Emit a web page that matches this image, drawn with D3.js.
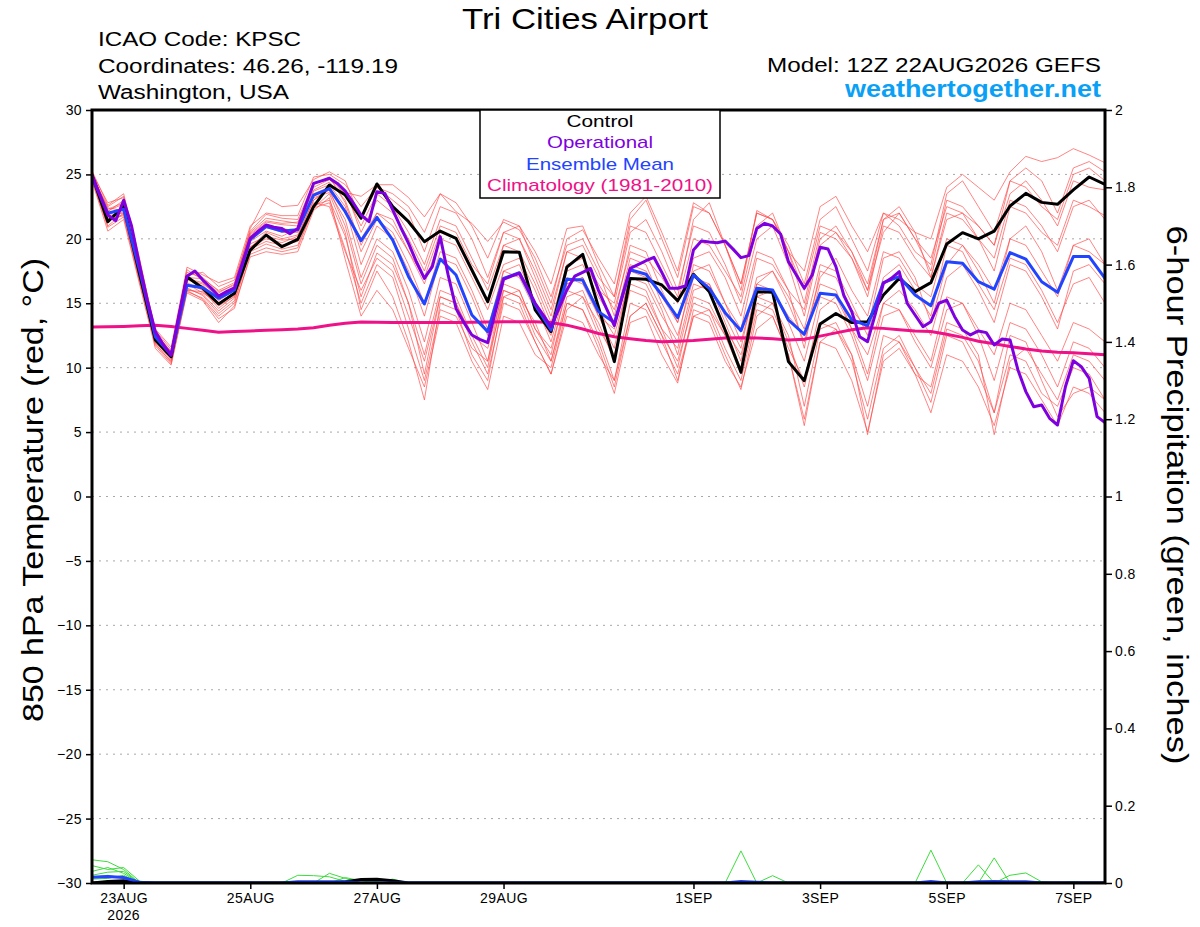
<!DOCTYPE html>
<html><head><meta charset="utf-8">
<script src="https://cdn.jsdelivr.net/npm/d3@7"></script>
<style>body{margin:0;background:#fff}svg{display:block}</style>
</head><body><svg id="c" width="1200" height="927"></svg>
<script>
// ---------- DATA ----------
const startTime = "2026-08-22T12:00:00Z";
const stepHours = 6;      // ensemble, control, mean, climatology, precip
const opStepHours = 3;    // operational run

const tempTicks = [-30,-25,-20,-15,-10,-5,0,5,10,15,20,25,30];
const precipTicks = [0,0.2,0.4,0.6,0.8,1,1.2,1.4,1.6,1.8,2];
const dateTicks = ["2026-08-23","2026-08-25","2026-08-27","2026-08-29","2026-09-01","2026-09-03","2026-09-05","2026-09-07"];
const dateLabels = ["23AUG","25AUG","27AUG","29AUG","1SEP","3SEP","5SEP","7SEP"];
const yearLabel = "2026";

const control = [24.96,21.33,22.5,17.3,12.15,10.85,17.06,16.16,14.94,15.77,19.13,20.3,19.39,19.96,22.5,24.18,23.4,
21.6,24.26,22.5,21.33,19.78,20.6,20.04,17.58,15.12,19.0,18.95,14.48,12.8,17.8,18.8,14.7,10.47,16.93,16.86,16.42,15.2,17.25,15.9,12.92,9.64,15.9,15.85,10.47,8.99,13.39,14.2,13.5,13.57,15.64,16.93,15.9,16.6,19.6,20.48,19.99,20.6,22.55,23.53,22.83,22.68,23.8,24.8,24.23];

const ensembleMean = [24.8,21.98,22.3,17.6,12.4,10.98,16.4,16.2,15.38,16.03,19.96,20.95,20.6,20.7,23.4,23.9,22.1,
19.85,21.67,19.9,17.06,14.94,18.43,17.19,14.09,12.8,16.93,17.37,14.86,12.92,16.86,16.8,14.35,13.5,17.6,17.25,15.64,13.88,17.19,16.16,14.27,12.87,16.16,16.03,13.7,12.59,15.77,15.64,13.72,13.26,16.6,17.06,15.64,14.81,18.23,18.1,16.67,16.1,18.93,18.43,16.67,15.85,18.62,18.62,16.93];

const climatology = [13.15,13.17,13.2,13.25,13.3,13.2,13.05,12.9,12.75,12.8,12.85,12.9,12.95,13.0,13.1,13.3,13.45,
13.55,13.52,13.5,13.5,13.5,13.5,13.5,13.52,13.54,13.56,13.57,13.57,13.5,13.3,13.0,12.65,12.4,12.25,12.1,12.02,12.05,12.1,12.2,12.3,12.33,12.3,12.25,12.15,12.2,12.45,12.7,12.95,13.1,13.05,12.95,12.85,12.8,12.6,12.35,12.05,11.85,11.65,11.45,11.3,11.2,11.15,11.08,11.0];

const operational = [24.96,23.4,21.85,21.41,23.0,21.0,18.0,15.2,12.8,11.8,10.98,14.1,17.1,17.5,16.8,16.2,15.56,15.9,16.2,18.1,
20.04,20.6,21.07,20.9,20.8,20.4,20.8,22.6,24.3,24.5,24.7,24.3,23.7,22.8,21.85,21.33,23.66,23.53,22.24,20.9,
19.65,18.2,16.93,17.84,20.17,17.2,14.6,13.5,12.54,12.2,11.94,14.4,16.86,17.1,17.33,16.2,15.0,14.1,13.18,14.6,
16.03,17.1,17.4,17.7,16.0,14.6,13.26,15.5,17.71,18.0,18.3,18.57,17.4,16.16,16.16,16.34,19.13,19.83,19.75,19.7,
19.83,19.2,18.54,18.7,20.8,21.2,21.0,20.38,18.23,17.2,16.16,17.19,19.34,19.21,17.84,15.6,14.35,12.4,12.02,14.22,
16.55,16.93,17.45,15.0,14.09,13.18,13.57,15.0,15.25,13.96,12.92,12.54,12.85,12.72,11.76,12.22,12.15,9.82,8.14,6.97,
7.1,6.07,5.55,8.52,10.54,10.08,9.17,6.2,5.73];

const member01 = [25.3,22.6,23.5,18.5,12.8,11.2,17.6,16.8,15.8,16.5,20.8,23.2,22.5,22.6,24.6,25.2,24.5,21.5,24.0,23.5,22.5,20.5,23.5,22.8,21.0,18.5,21.5,21.0,19.0,16.5,20.8,21.0,18.0,15.5,21.5,23.0,20.0,17.0,22.5,22.0,19.5,16.5,22.0,21.5,19.0,17.5,22.5,23.3,21.0,19.0,22.0,21.5,20.5,20.0,24.0,25.0,24.0,23.0,25.2,26.4,26.0,26.3,27.0,26.5,25.9];
const member02 = [24.6,21.0,22.0,17.0,12.0,10.6,16.0,15.9,14.8,15.5,19.3,20.5,20.0,20.3,23.0,24.0,23.6,23.3,24.2,24.2,23.2,21.7,23.5,22.1,21.2,19.8,21.3,20.7,18.5,15.5,19.5,20.0,17.5,14.0,19.5,19.0,16.0,13.5,18.5,19.0,17.0,14.0,19.0,18.5,16.0,14.5,20.0,21.0,19.0,16.0,20.5,22.0,20.0,17.5,23.0,22.5,21.0,19.5,24.5,25.5,24.5,22.0,25.5,26.0,25.2];
const member03 = [25.0,22.3,22.8,17.8,12.6,11.0,16.8,16.5,15.6,16.2,20.3,21.3,21.1,21.0,23.8,24.4,23.0,19.5,22.0,21.5,19.0,17.0,20.5,20.0,17.5,15.0,19.5,19.0,16.5,13.5,18.0,18.5,16.5,14.5,19.0,18.5,17.0,15.0,20.0,19.5,17.5,15.5,21.0,22.0,19.0,15.0,20.5,20.0,18.5,16.0,21.5,22.5,20.5,17.0,22.0,21.5,20.0,18.5,23.0,22.5,21.0,19.0,22.5,23.0,21.5];
const member04 = [24.7,21.5,21.8,16.8,11.8,10.5,16.2,15.6,14.2,15.2,19.0,19.6,19.2,19.5,22.4,23.5,20.5,14.5,17.5,15.5,12.0,7.5,15.0,14.5,11.0,9.0,15.5,16.0,13.0,11.0,16.5,17.0,14.0,11.5,17.5,17.0,14.5,11.0,16.0,16.5,13.5,10.5,16.5,17.5,15.0,12.0,16.5,16.0,13.0,11.0,15.0,16.0,14.5,12.5,17.0,18.0,16.0,13.5,18.0,17.5,15.5,13.0,17.5,18.0,16.5];
const member05 = [24.9,22.0,22.4,17.5,12.5,11.3,17.0,16.9,16.0,16.6,20.5,21.6,21.4,21.2,24.2,24.8,22.8,19.0,21.5,20.5,18.0,15.0,19.0,18.5,16.0,13.0,17.5,17.0,14.5,12.5,17.0,16.5,14.0,13.0,18.0,17.5,15.5,13.5,17.5,18.0,15.0,12.0,16.5,16.0,14.0,12.5,17.0,18.5,16.0,14.0,19.0,18.5,16.5,15.5,20.0,19.5,18.0,16.0,20.0,19.5,17.5,15.5,19.5,20.0,18.0];
const member06 = [24.5,20.6,21.5,16.5,11.5,10.2,15.8,15.2,13.5,14.8,18.6,19.0,18.8,19.0,22.2,23.2,18.4,14.0,16.0,14.5,11.5,8.5,14.0,13.5,10.5,8.3,14.0,13.5,11.0,10.0,15.0,14.5,11.5,8.0,13.5,14.0,11.0,8.8,14.5,14.0,11.0,8.3,14.0,15.0,12.0,8.5,13.5,13.0,10.5,6.0,11.5,12.5,10.0,7.3,12.5,12.0,9.5,6.5,11.0,10.5,8.0,7.0,10.0,9.5,7.5];
const member07 = [25.1,22.8,23.2,18.2,13.0,11.6,17.8,17.2,16.6,17.0,21.0,22.0,21.8,21.8,24.8,25.0,24.2,22.5,24.0,23.0,22.0,19.0,22.5,22.0,20.0,17.0,20.5,21.0,18.0,15.0,20.0,20.7,18.5,16.5,22.0,23.3,20.5,17.5,22.8,22.0,19.5,16.0,22.2,21.5,19.5,16.5,21.5,22.5,20.0,17.5,22.0,21.0,19.0,18.0,23.5,24.5,22.5,20.5,24.5,24.0,22.5,21.5,25.0,25.5,24.5];
const member08 = [24.8,21.8,22.0,17.2,12.2,10.8,16.6,16.0,14.6,15.6,19.8,20.6,20.2,20.8,23.2,23.6,21.5,17.0,20.0,19.0,16.0,12.0,17.0,16.5,13.5,10.5,16.5,16.0,13.0,11.5,16.0,15.5,13.5,10.5,16.5,16.0,13.0,10.0,15.5,15.0,12.5,9.5,15.0,14.5,11.5,9.0,14.5,15.5,13.0,9.5,15.0,14.5,12.0,10.0,14.5,15.0,12.5,9.0,13.5,13.0,11.0,8.5,12.0,11.5,10.0];
const member09 = [24.6,21.2,22.6,17.6,12.3,11.0,16.3,16.4,15.2,16.0,20.0,20.9,20.5,20.5,23.5,24.0,22.2,20.0,22.0,21.0,19.0,16.5,20.0,19.5,17.0,14.5,18.0,18.5,16.0,13.0,17.5,18.0,15.5,13.5,18.5,18.0,15.0,12.5,17.0,16.5,14.0,11.5,17.0,17.5,15.5,13.0,18.0,17.5,15.0,12.5,17.0,18.0,16.0,14.0,19.5,19.0,16.5,14.5,18.5,18.0,16.0,13.5,16.5,17.0,15.0];
const member10 = [24.9,22.4,22.2,17.4,12.4,11.1,16.5,15.8,15.0,15.8,19.6,20.2,19.9,20.0,22.8,22.5,19.0,16.0,18.5,17.5,14.0,10.5,15.5,15.0,12.0,9.5,15.0,14.5,12.0,9.5,14.5,15.5,12.5,9.0,15.0,14.5,12.0,9.5,14.0,14.5,12.5,10.0,15.5,15.0,12.5,7.0,13.0,13.5,11.0,4.8,11.0,12.0,10.0,8.0,13.0,12.5,10.5,6.5,12.5,12.0,9.0,6.2,8.0,8.5,7.5];
const member11 = [25.2,22.1,23.0,18.0,12.9,11.4,17.2,17.4,16.3,16.8,20.6,21.9,21.6,21.5,24.3,24.6,23.5,21.0,23.5,22.5,20.5,18.0,21.5,21.0,18.5,16.0,19.5,20.0,17.5,14.5,19.0,18.5,16.0,15.0,20.5,21.5,19.0,16.0,21.0,20.5,18.0,15.0,20.0,21.0,18.0,14.0,19.5,20.5,18.5,15.5,21.0,20.5,18.5,17.0,21.5,22.0,20.0,17.5,22.5,22.0,20.5,19.5,23.0,22.5,21.8];
const member12 = [24.7,21.6,22.1,17.1,11.9,10.4,15.9,15.4,14.0,15.0,19.2,19.8,19.5,19.8,22.6,23.0,20.2,15.5,18.9,18.0,15.0,11.0,16.0,15.5,12.5,11.5,16.0,15.5,13.5,10.5,15.5,16.0,13.0,11.0,16.0,15.5,13.0,11.5,16.5,16.0,13.0,11.0,15.5,16.0,13.5,10.5,15.5,15.0,12.5,9.0,14.0,14.5,12.5,10.5,15.5,15.0,13.0,11.0,15.0,14.5,12.5,10.5,13.5,13.0,12.0];
const member13 = [25.0,22.2,22.7,17.7,12.7,11.2,16.9,16.6,15.4,16.1,20.2,21.0,20.8,20.6,23.7,24.2,22.5,18.0,21.0,20.0,17.5,14.0,18.5,18.0,15.5,12.5,17.5,18.0,15.0,12.0,16.5,17.0,14.5,12.5,17.0,16.5,14.0,12.0,18.0,17.5,15.0,13.0,18.5,18.0,16.0,11.5,17.5,17.0,14.5,13.0,18.5,19.0,17.0,13.5,18.0,19.5,17.5,15.0,20.0,21.0,19.0,16.0,19.5,19.0,18.0];
const member14 = [24.8,21.4,21.9,16.9,12.1,10.7,16.1,15.7,14.4,15.4,19.4,20.0,19.7,20.2,23.0,23.8,21.0,16.5,19.5,18.5,15.0,9.5,15.5,15.0,12.5,10.0,16.0,15.5,12.5,10.5,15.0,14.5,12.0,8.5,14.0,15.0,12.5,10.5,15.0,14.5,11.5,9.0,14.5,14.0,11.0,5.5,12.0,13.0,11.0,7.0,12.5,12.0,9.5,8.5,13.5,13.0,11.0,4.8,10.5,11.5,9.5,7.5,11.0,10.5,9.0];
const member15 = [24.9,22.5,23.3,18.3,12.6,11.0,17.4,17.0,15.9,16.4,20.4,21.4,21.2,21.3,24.0,24.6,23.8,20.5,23.0,22.0,20.0,17.5,21.0,20.5,18.0,16.5,20.5,20.0,17.0,14.0,19.0,19.5,17.0,15.5,21.0,20.5,18.0,15.5,21.5,22.8,19.5,16.5,22.0,21.5,19.0,16.0,21.0,20.5,19.0,16.5,21.5,22.0,20.0,18.5,22.5,22.0,21.0,19.5,23.5,24.5,23.0,21.0,24.5,24.0,23.8];
const member16 = [24.6,20.9,21.7,16.7,11.7,10.3,16.0,15.3,13.8,14.6,18.8,19.3,19.0,19.3,22.4,22.8,19.2,15.0,18.0,17.0,13.0,9.0,14.5,14.0,11.5,10.5,15.5,15.0,12.0,9.5,14.0,13.5,11.0,9.0,14.0,15.0,12.5,9.0,14.0,13.5,10.5,8.5,13.0,14.0,11.0,6.0,12.0,11.5,9.0,5.0,10.5,11.5,9.5,6.5,11.0,10.5,8.5,5.5,10.0,9.5,7.5,5.5,8.5,8.0,6.5];
const members = [member01,member02,member03,member04,member05,member06,member07,member08,member09,member10,member11,member12,member13,member14,member15,member16];

// 6-hour precipitation (inches)
const precip01 = [0.06,0.055,0.035,0,0,0,0,0,0,0,0,0,0,0,0,0,0,0,0,0,0,0,0,0,0,0,0,0,0,0,0,0,0,0,0,0,0,0,0,0,0,0.083,0,0,0,0,0,0,0,0,0,0,0,0,0,0,0,0,0,0,0,0,0,0,0];
const precip02 = [0.045,0.035,0.04,0.005,0,0,0,0,0,0,0,0,0,0,0,0,0,0,0,0,0,0,0,0,0,0,0,0,0,0,0,0,0,0,0,0,0,0,0,0,0,0,0,0,0,0,0,0,0,0,0,0,0,0.085,0,0,0,0,0,0,0,0,0,0,0];
const precip03 = [0.03,0.04,0.025,0,0,0,0,0,0,0,0,0,0,0.02,0.019,0.016,0.004,0,0,0,0,0,0,0,0,0,0,0,0,0,0,0,0,0,0,0,0,0,0,0,0,0,0,0,0,0,0,0,0,0,0,0,0,0,0,0,0.047,0,0,0,0,0,0,0,0];
const precip04 = [0.02,0.028,0.03,0,0,0,0,0,0,0,0,0,0,0,0,0.025,0.012,0,0,0,0,0,0,0,0,0,0,0,0,0,0,0,0,0,0,0,0,0,0,0,0,0,0,0,0,0,0,0,0,0,0,0,0,0,0,0,0,0.065,0,0,0,0,0,0,0];
const precip05 = [0.015,0.02,0.012,0,0,0,0,0,0,0,0,0,0,0,0,0,0.014,0.006,0,0,0,0,0,0,0,0,0,0,0,0,0,0,0,0,0,0,0,0,0,0,0,0,0,0.019,0,0,0,0,0,0,0,0,0,0,0,0,0,0,0.02,0.026,0.003,0,0,0,0];
const precip06 = [0.01,0.012,0.02,0,0,0,0,0,0,0,0,0,0,0,0,0,0,0,0.004,0.01,0,0,0,0,0,0,0,0,0,0,0,0,0,0,0,0,0,0,0,0,0,0,0,0,0,0,0,0,0,0,0,0,0,0,0,0,0,0,0,0,0,0,0.003,0,0];
const precipMembers = [precip01,precip02,precip03,precip04,precip05,precip06];
const precipMean = [0.015,0.017,0.014,0.002,0,0,0,0,0,0,0,0,0,0.003,0.003,0.003,0.003,0,0,0,0,0,0,0,0,0,0,0,0,0,0,0,0,0,0,0,0,0,0,0,0,0.004,0.002,0,0,0,0,0,0,0,0,0,0,0.004,0,0,0.003,0.004,0.003,0.003,0,0,0,0,0];
const precipControl = [0,0.004,0.006,0,0,0,0,0,0,0,0,0,0,0,0,0,0.003,0.009,0.01,0.006,0,0,0,0,0,0,0,0,0,0,0,0,0,0,0,0,0,0,0,0,0,0,0,0,0,0,0,0,0,0,0,0,0,0,0,0,0,0,0,0,0,0,0,0,0];

const legendItems = [
  {label:"Control", color:"#000000", len:67},
  {label:"Operational", color:"#7f00df", len:106},
  {label:"Ensemble Mean", color:"#2244ff", len:148},
  {label:"Climatology (1981-2010)", color:"#ee1188", len:226}
];

// ---------- DRAWING ----------
const FONT = "'Liberation Sans', Arial, Helvetica, sans-serif";
const svg = d3.select("#c");
const P = {left:92, right:1105, top:110, bottom:883};
const t0 = Date.parse(startTime);
const timeAt = (i, step) => new Date(t0 + i * step * 3600e3);

const x = d3.scaleUtc().domain([timeAt(0, stepHours), timeAt(64, stepHours)]).range([P.left, P.right]);
const y = d3.scaleLinear().domain([-30, 30]).range([P.bottom, P.top]);
const yp = d3.scaleLinear().domain([0, 2]).range([P.bottom, P.top]);

svg.append("defs").append("clipPath").attr("id","plot")
  .append("rect").attr("x",P.left).attr("y",P.top).attr("width",P.right-P.left).attr("height",P.bottom-P.top);

// grid
svg.append("g").selectAll("line").data(tempTicks.filter(d => d > -30 && d < 30)).join("line")
  .attr("x1", P.left).attr("x2", P.right).attr("y1", d => y(d)).attr("y2", d => y(d))
  .attr("stroke", "#a8a8a8").attr("stroke-width", 1).attr("stroke-dasharray", "2,5");

const plot = svg.append("g").attr("clip-path", "url(#plot)");
const tLine = (step) => d3.line().x((d, i) => x(timeAt(i, step))).y(d => y(d));
const pLine = d3.line().x((d, i) => x(timeAt(i, stepHours))).y(d => yp(d));

// ensemble members
plot.append("g").selectAll("path").data(members).join("path")
  .attr("d", tLine(stepHours)).attr("fill","none").attr("stroke","#ff4a4a").attr("stroke-width",0.8).attr("stroke-opacity",0.85);

// precipitation members
plot.append("g").selectAll("path").data(precipMembers).join("path")
  .attr("d", pLine).attr("fill","none").attr("stroke","#3ddc3d").attr("stroke-width",1);

// climatology, control, mean, operational
plot.append("path").datum(climatology).attr("d", tLine(stepHours)).attr("fill","none").attr("stroke","#ee1188").attr("stroke-width",3);
plot.append("path").datum(control).attr("d", tLine(stepHours)).attr("fill","none").attr("stroke","#000").attr("stroke-width",3).attr("stroke-linejoin","round");
plot.append("path").datum(ensembleMean).attr("d", tLine(stepHours)).attr("fill","none").attr("stroke","#2244ff").attr("stroke-width",3).attr("stroke-linejoin","round");
plot.append("path").datum(operational).attr("d", tLine(opStepHours)).attr("fill","none").attr("stroke","#7f00df").attr("stroke-width",3).attr("stroke-linejoin","round");

// precipitation control & mean
plot.append("path").datum(precipControl).attr("d", pLine).attr("fill","none").attr("stroke","#000").attr("stroke-width",3);
plot.append("path").datum(precipMean).attr("d", pLine).attr("fill","none").attr("stroke","#2244ff").attr("stroke-width",3);

// axes
function styleAxis(g) {
  g.select(".domain").remove();
  g.attr("font-family", FONT).attr("font-size", 14);
  g.selectAll(".tick line").attr("stroke", "#000").attr("stroke-width", 1.5);
  g.selectAll(".tick text").attr("fill", "#000").attr("letter-spacing", "0.4px");
}
svg.append("g").attr("transform", `translate(${P.left},0)`)
  .call(d3.axisLeft(y).tickValues(tempTicks).tickSize(6).tickPadding(4)).call(styleAxis);
svg.append("g").attr("transform", `translate(${P.right},0)`)
  .call(d3.axisRight(yp).tickValues(precipTicks).tickSize(7).tickPadding(3).tickFormat(d => String(d))).call(styleAxis);
const xAxisG = svg.append("g").attr("transform", `translate(0,${P.bottom})`)
  .call(d3.axisBottom(x).tickValues(dateTicks.map(d => new Date(d + "T00:00:00Z"))).tickSize(6).tickPadding(4)
    .tickFormat((d, i) => dateLabels[i])).call(styleAxis);
svg.append("text").attr("x", x(new Date(dateTicks[0] + "T00:00:00Z"))).attr("y", 920)
  .attr("text-anchor","middle").attr("font-family",FONT).attr("font-size",14).attr("letter-spacing","0.4px").text(yearLabel);

// frame
svg.append("rect").attr("x",P.left).attr("y",P.top).attr("width",P.right-P.left).attr("height",P.bottom-P.top)
  .attr("fill","none").attr("stroke","#000").attr("stroke-width",3);

// legend
const lg = svg.append("g");
lg.append("rect").attr("x",480).attr("y",P.top).attr("width",240).attr("height",88)
  .attr("fill","#fff").attr("stroke","#000").attr("stroke-width",1.5);
const legendY = [127, 148, 170, 191];
lg.selectAll("text").data(legendItems).join("text")
  .attr("x", 600).attr("y", (d, i) => legendY[i]).attr("text-anchor","middle")
  .attr("font-family",FONT).attr("font-size",17).attr("fill", d => d.color)
  .attr("textLength", d => d.len).attr("lengthAdjust","spacingAndGlyphs").text(d => d.label);

// header texts
function txt(s, xx, yy, size, anchor, len, opts = {}) {
  const t = svg.append("text").attr("x", xx).attr("y", yy).attr("font-family", FONT).attr("font-size", size)
    .attr("text-anchor", anchor).attr("fill", opts.fill || "#000").attr("font-weight", opts.weight || "normal")
    .attr("textLength", len).attr("lengthAdjust", "spacingAndGlyphs").text(s);
  if (opts.transform) t.attr("transform", opts.transform);
  return t;
}
txt("Tri Cities Airport", 585, 29, 30, "middle", 246);
txt("ICAO Code: KPSC", 98, 46, 20, "start", 203);
txt("Coordinates: 46.26, -119.19", 98, 73, 20, "start", 300);
txt("Washington, USA", 98, 99, 20, "start", 191);
txt("Model: 12Z 22AUG2026 GEFS", 1101, 72, 20, "end", 334);
txt("weathertogether.net", 1101, 97, 23, "end", 256, {fill:"#0aa0f5", weight:"bold"});

// axis titles
txt("850 hPa Temperature (red, °C)", 0, 0, 30, "middle", 464, {transform:"translate(43,490) rotate(-90)"});
txt("6-hour Precipitation (green, inches)", 0, 0, 30, "middle", 539, {transform:"translate(1167,495) rotate(90)"});
</script></body></html>
